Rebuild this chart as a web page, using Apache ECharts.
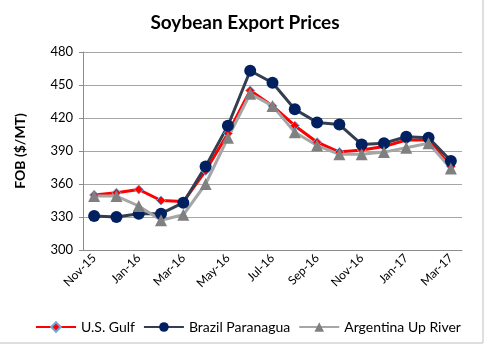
<!DOCTYPE html>
<html><head><meta charset="utf-8">
<script src="https://cdn.jsdelivr.net/npm/echarts@6/dist/echarts.min.js"></script>
<style>html,body{margin:0;padding:0;background:#fff}#c{width:490px;height:345px}</style>
</head><body><div id="c"></div>
<script>
const categories = ["Nov-15","Dec-15","Jan-16","Feb-16","Mar-16","Apr-16","May-16","Jun-16","Jul-16","Aug-16","Sep-16","Oct-16","Nov-16","Dec-16","Jan-17","Feb-17","Mar-17"];
const usGulf = [350,352,355,345,344,372,406,445,431,413,398,389,391,394,400,400,376];
const brazil = [331,330,333,333,343,376,413,463,452,428,416,414,396,397,403,402,381];
const argentina = [349,349,340,327,332,360,402,442,431,407,395,387,387,389,393,397,374];
const yTicks = {min:300, max:480, interval:30};

const font = 'Lato, "Open Sans", sans-serif';
const chart = echarts.init(document.getElementById('c'), null, {renderer:'canvas'});
chart.setOption({
  animation:false,
  backgroundColor:'#fff',
  graphic:[{type:'rect',shape:{x:-2,y:-2,width:485,height:345},style:{fill:'none',stroke:'#bfbfbf',lineWidth:1},silent:true}],
  title:{text:'Soybean Export Prices',left:'center',top:8,textStyle:{fontFamily:font,fontSize:19,fontWeight:'bold',color:'#000'}},
  grid:{left:83,right:28,top:52,bottom:95,containLabel:false},
  legend:{bottom:6,left:30,itemWidth:40,itemHeight:12,itemGap:8,
    textStyle:{fontFamily:font,fontSize:14,color:'#000'},
    data:['U.S. Gulf','Brazil Paranagua','Argentina Up River']},
  xAxis:{type:'category',data:categories,boundaryGap:true,
    axisLine:{lineStyle:{color:'#8c8c8c',width:1}},
    axisTick:{interval:1,length:5,lineStyle:{color:'#8c8c8c'}},
    axisLabel:{interval:1,rotate:45,fontFamily:font,fontSize:12,color:'#000',margin:6}},
  yAxis:{type:'value',min:yTicks.min,max:yTicks.max,interval:yTicks.interval,
    name:'FOB ($/MT)',nameLocation:'middle',nameGap:56,nameRotate:90,
    nameTextStyle:{fontFamily:font,fontSize:14,fontWeight:'bold',color:'#000'},
    axisLine:{show:true,lineStyle:{color:'#8c8c8c'}},
    axisTick:{show:true,length:4,lineStyle:{color:'#8c8c8c'}},
    splitLine:{lineStyle:{color:'#a6a6a6',width:1}},
    axisLabel:{fontFamily:font,fontSize:13,color:'#000',margin:10}},
  series:[
    {name:'U.S. Gulf',type:'line',data:usGulf,symbol:'diamond',symbolSize:9,
      lineStyle:{color:'#ff0000',width:3},itemStyle:{color:'#ff0000',borderColor:'#6fa8dc',borderWidth:1}},
    {name:'Brazil Paranagua',type:'line',data:brazil,symbol:'circle',symbolSize:12,
      lineStyle:{color:'#333f50',width:3},itemStyle:{color:'#002060',borderColor:'#002060',borderWidth:0}},
    {name:'Argentina Up River',type:'line',data:argentina,symbol:'triangle',symbolSize:12,
      lineStyle:{color:'#a6a6a6',width:3},itemStyle:{color:'#808080',borderWidth:0}}
  ]
});
</script></body></html>
